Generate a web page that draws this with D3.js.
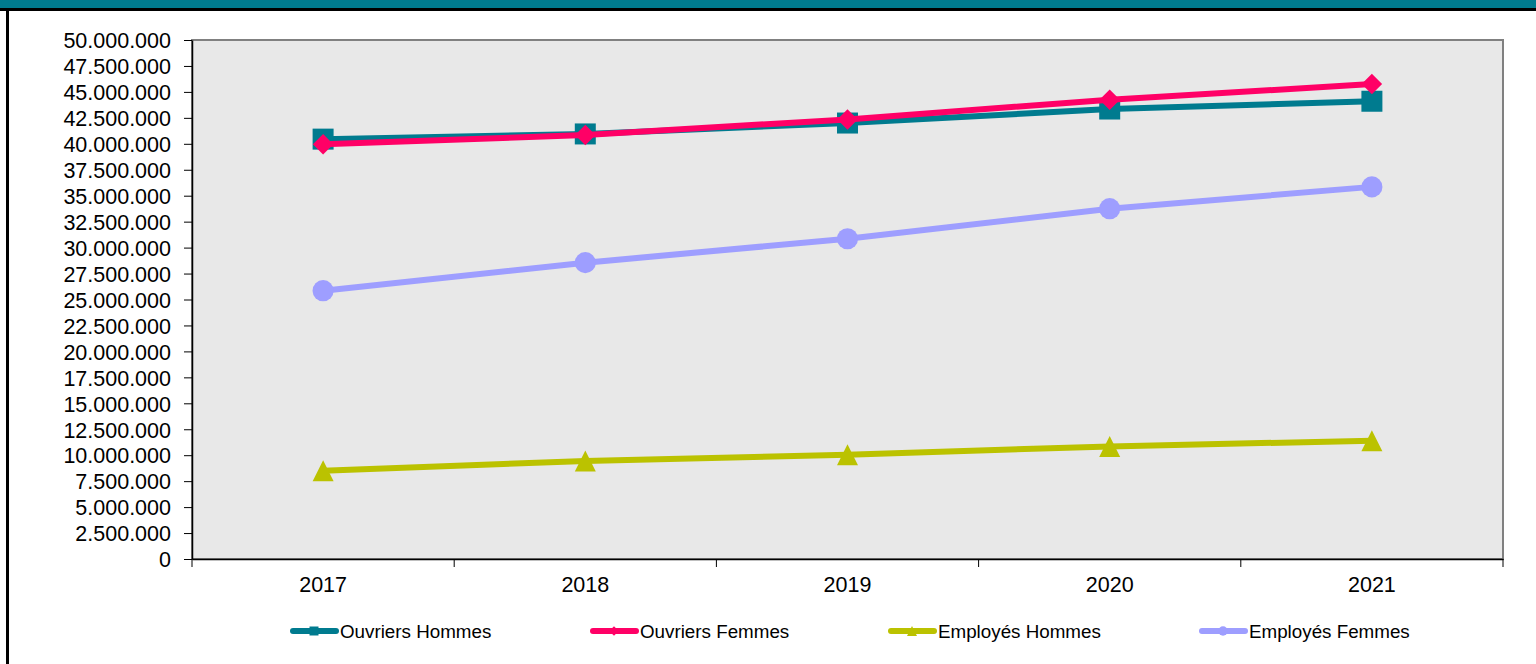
<!DOCTYPE html>
<html>
<head>
<meta charset="utf-8">
<script src="https://cdn.jsdelivr.net/npm/d3@7"></script>
<style>
  body { margin: 0; background: #fff; }
  svg { display: block; font-family: "Liberation Sans", Arial, sans-serif; }
</style>
</head>
<body>
<div id="chart"></div>
<script>
// data
const years = ["2017", "2018", "2019", "2020", "2021"];
const seriesNames = ["Ouvriers Hommes", "Ouvriers Femmes", "Employés Hommes", "Employés Femmes"];
const ouvriersHommes = [40450000, 40950000, 42000000, 43350000, 44100000];
const ouvriersFemmes = [39950000, 40850000, 42350000, 44250000, 45750000];
const employesHommes = [8500000, 9450000, 10050000, 10850000, 11400000];
const employesFemmes = [25850000, 28550000, 30850000, 33750000, 35850000];
const yTicks = d3.range(0, 50000001, 2500000);

const width = 1536;
const height = 664;
const margin = {top: 40, left: 192, right: 33, bottom: 105};

const colors = ["#007B8F", "#FF0066", "#BBC200", "#9E9EFF"];

// marker shapes: square, diamond (rotated square), triangle, circle
const diamond = {
  draw(ctx, size) {
    const r = Math.sqrt(size) / 2;
    ctx.moveTo(0, -r); ctx.lineTo(r, 0); ctx.lineTo(0, r); ctx.lineTo(-r, 0); ctx.closePath();
  }
};
const triangle = {
  draw(ctx, size) {
    const r = Math.sqrt(size) / 2;
    ctx.moveTo(0, -r); ctx.lineTo(r, r); ctx.lineTo(-r, r); ctx.closePath();
  }
};
const shapes = [d3.symbolSquare, diamond, triangle, d3.symbolCircle];
const sizes = [441, 420, 441, 350];
const legendSizes = [81, 90, 100, 70];
const allValues = [ouvriersHommes, ouvriersFemmes, employesHommes, employesFemmes];

const svg = d3.select("#chart")
  .append("svg")
    .attr("width", width)
    .attr("height", height);

// frame of the page
svg.append("rect").attr("x", 0).attr("y", 0).attr("width", width).attr("height", 8).attr("fill", "#007B8F");
svg.append("rect").attr("x", 0).attr("y", 8).attr("width", width).attr("height", 3).attr("fill", "#000");
svg.append("rect").attr("x", 6).attr("y", 8).attr("width", 3).attr("height", height).attr("fill", "#000");

const x = d3.scaleBand()
  .domain(years)
  .range([margin.left, width - margin.right]);

const y = d3.scaleLinear()
  .domain([0, 50000000])
  .range([height - margin.bottom, margin.top]);

// plot area
svg.append("rect")
  .attr("x", margin.left)
  .attr("y", margin.top)
  .attr("width", width - margin.right - margin.left)
  .attr("height", height - margin.bottom - margin.top)
  .attr("fill", "#E8E8E8")
  .attr("stroke", "#808080")
  .attr("stroke-width", 2);

const fmt = d3.formatLocale({decimal: ",", thousands: ".", grouping: [3], currency: ["", ""]}).format(",d");

// y axis
const yAxis = svg.append("g")
  .attr("transform", `translate(${margin.left},0)`)
  .call(d3.axisLeft(y).tickValues(yTicks).tickFormat(fmt).tickSize(8).tickSizeOuter(0));
yAxis.select(".domain").attr("stroke", "#000").attr("stroke-width", 1.5);
yAxis.selectAll(".tick line").attr("stroke", "#000");
yAxis.selectAll("text").attr("font-size", 21.5).attr("fill", "#000").attr("dy", "0.36em").attr("x", -21)
  .attr("font-family", "Liberation Sans, Arial, sans-serif");

// x axis
const xAxis = svg.append("g")
  .attr("transform", `translate(0,${height - margin.bottom})`)
  .call(d3.axisBottom(x).tickSize(0).tickSizeOuter(0));
xAxis.select(".domain").attr("stroke", "#000").attr("stroke-width", 1.5);
xAxis.selectAll("text").attr("font-size", 21.5).attr("fill", "#000").attr("y", 18)
  .attr("font-family", "Liberation Sans, Arial, sans-serif");
// category separators
const sepTicks = years.map(d => x(d)).concat([x.range()[1]]);
xAxis.selectAll(".sep")
  .data(sepTicks)
  .join("line")
    .attr("class", "sep")
    .attr("x1", d => d).attr("x2", d => d)
    .attr("y1", 0).attr("y2", 8)
    .attr("stroke", "#000");

const line = d3.line()
  .x((d, i) => x(years[i]) + x.bandwidth() / 2)
  .y(d => y(d));

allValues.forEach(function(vals, s) {
  const g = svg.append("g");
  g.append("path")
    .datum(vals)
    .attr("d", line)
    .attr("fill", "none")
    .attr("stroke", colors[s])
    .attr("stroke-width", 6);
  g.selectAll("path.mark")
    .data(vals)
    .join("path")
      .attr("class", "mark")
      .attr("d", d3.symbol().type(shapes[s]).size(sizes[s]))
      .attr("transform", (d, i) => `translate(${x(years[i]) + x.bandwidth() / 2},${y(d)})`)
      .attr("fill", colors[s]);
});

// legend
const legendX = [290, 590, 888, 1199];
const legend = svg.append("g").attr("transform", "translate(0,631)");
seriesNames.forEach(function(name, s) {
  const item = legend.append("g").attr("transform", `translate(${legendX[s]},0)`);
  item.append("line")
    .attr("x1", 3).attr("x2", 46)
    .attr("y1", 0).attr("y2", 0)
    .attr("stroke", colors[s])
    .attr("stroke-width", 6)
    .attr("stroke-linecap", "round");
  item.append("path")
    .attr("d", d3.symbol().type(shapes[s]).size(legendSizes[s]))
    .attr("transform", "translate(24,0)")
    .attr("fill", colors[s]);
  item.append("text")
    .attr("x", 50)
    .attr("y", 0)
    .attr("dy", "0.36em")
    .attr("font-size", 18.8)
    .attr("fill", "#000")
    .text(name);
});
</script>
</body>
</html>
